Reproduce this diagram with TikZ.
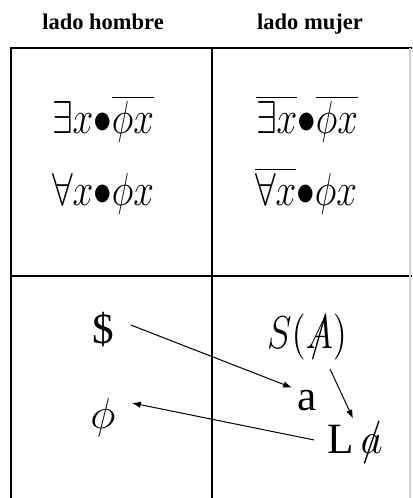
\documentclass[tikz,border=0pt]{standalone}
\usepackage{fontspec}
\setmainfont{Liberation Serif}
\usetikzlibrary{arrows.meta,positioning}
\newcommand{\barred}[1]{{\ooalign{$#1$\cr\hidewidth$/$\hidewidth\cr}}}
\newcommand{\tall}[1]{\scalebox{1.03}[1.28]{#1}}
\tikzset{
  hdr/.style={font=\small\bfseries, inner sep=1pt, anchor=base},
  frm/.style={font=\Large, inner sep=1pt, anchor=base},
  sym/.style={font=\LARGE, inner sep=1pt},
  rule/.style={line width=.7pt},
  arr/.style={-{Latex[length=3.5pt,width=2.6pt]}, line width=.4pt},
}
\begin{document}
\begin{tikzpicture}[x=0.4pt,y=-0.4pt]
\useasboundingbox (0,0) rectangle (412,498);
% cuadro
\draw[rule] (11,498) -- (11,48) -- (412,48);
\draw[rule] (212,48) -- (212,498);
\draw[rule] (11,276) -- (412,276);
\draw[gray!35, line width=.5pt] (410,48) -- (410,498);
% encabezados
\node[hdr] (hom) at (103,30) {lado hombre};
\node[hdr] (muj) at (310,30) {lado mujer};
% formulas
\node[frm] (hex) at (103,134) {\tall{$\exists x{\bullet}\overline{\phi x}$}};
\node[frm] (hall) at (103,206) {\tall{$\forall x{\bullet}\phi x$}};
\node[frm] (mex) at (307,134) {\tall{$\overline{\exists x}{\bullet}\overline{\phi x}$}};
\node[frm] (mall) at (306,206) {\tall{$\overline{\forall x}{\bullet}\phi x$}};
% abajo
\node[sym] (dol) at (103,330) {\$};
\node[sym] (phi) at (103,418) {$\phi$};
\node[frm, anchor=center] (sa) at (307,337) {\tall{$S(\barred{A})$}};
\node[sym] (a) at (307,401) {a};
\node[sym] (la) at (355,445) {L\,$\barred{a}$};
\draw[arr] ([xshift=5.6pt,yshift=2pt]dol.east) -- ([shift={(-1pt,0pt)}]a.north west);
\draw[arr] ([xshift=-4pt,yshift=2pt]la.west) -- ([xshift=5.4pt,yshift=6pt]phi.east);
\draw[arr] ([xshift=9.2pt,yshift=-2.4pt]sa.south) -- ([xshift=-0.8pt,yshift=1.6pt]la.north);
\end{tikzpicture}
\end{document}
